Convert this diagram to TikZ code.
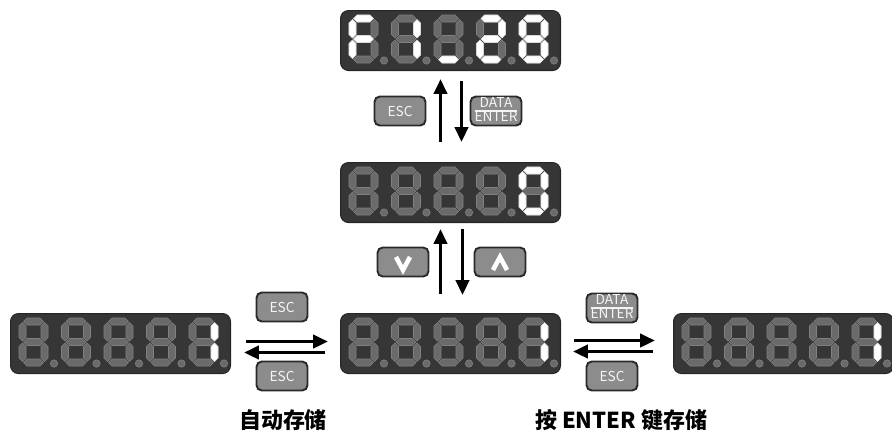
\documentclass[tikz,border=0pt]{standalone}
\usepackage{fontspec}
\usetikzlibrary{arrows.meta}
\newfontfamily\cjkfont{Noto Sans CJK SC}

\definecolor{panel}{HTML}{363636}
\definecolor{paneledge}{HTML}{262626}
\definecolor{segdim}{HTML}{6A6A6A}
\definecolor{segdimedge}{HTML}{808080}
\definecolor{keygrey}{HTML}{8C8C8C}
\definecolor{keyedge}{HTML}{2A2A2A}
\definecolor{keytext}{HTML}{F4F4F4}

% segments of one digit, 29 x 48 units, y pointing down
\tikzset{
  seg a/.pic={\path[pic actions] (4.5,3.5) -- (8,0) -- (21,0) -- (24.5,3.5) -- (21,7) -- (8,7) -- cycle;},
  seg g/.pic={\path[pic actions] (4.5,24) -- (8,20.5) -- (21,20.5) -- (24.5,24) -- (21,27.5) -- (8,27.5) -- cycle;},
  seg d/.pic={\path[pic actions] (4.5,44.5) -- (8,41) -- (21,41) -- (24.5,44.5) -- (21,48) -- (8,48) -- cycle;},
  seg f/.pic={\path[pic actions] (3.5,4.5) -- (7,8) -- (7,19.5) -- (3.5,23) -- (0,19.5) -- (0,8) -- cycle;},
  seg b/.pic={\path[pic actions] (25.5,4.5) -- (29,8) -- (29,19.5) -- (25.5,23) -- (22,19.5) -- (22,8) -- cycle;},
  seg e/.pic={\path[pic actions] (3.5,25) -- (7,28.5) -- (7,40) -- (3.5,43.5) -- (0,40) -- (0,28.5) -- cycle;},
  seg c/.pic={\path[pic actions] (25.5,25) -- (29,28.5) -- (29,40) -- (25.5,43.5) -- (22,40) -- (22,28.5) -- cycle;},
  seg dp/.pic={\path[pic actions] (35,45.5) circle[radius=2.1pt];},
  seg none/.pic={}
}

% one digit: position, lit segments
\newcommand{\leddigit}[2]{%
  \foreach \s in {a,b,c,d,e,f,g,dp} \pic[segoff] at (#1) {seg \s};
  \foreach \s in {#2} \pic[segon] at (#1) {seg \s};
}

% one display: name, top left corner, lit segments of the five digits
\newcommand{\leddisplay}[7]{%
  \node[display, anchor=north west] (#1) at (#2) {};
  \begin{scope}[shift={(#2)}]
    \leddigit{9,5}{#3}
    \leddigit{51.5,5}{#4}
    \leddigit{94,5}{#5}
    \leddigit{136.5,5}{#6}
    \leddigit{179,5}{#7}
  \end{scope}}

\begin{document}
\begin{tikzpicture}[
            x=0.02cm, y=-0.02cm,
            display/.style={fill=panel, draw=paneledge, line width=0.6pt, rounded corners=0.16cm,
                            minimum width=4.4cm, minimum height=1.2cm, inner sep=0pt},
            segoff/.style={fill=segdim, draw=segdimedge, line width=0.35pt},
            segon/.style={fill=white, draw=white!85!black, line width=0.35pt},
            key/.style={fill=keygrey, draw=keyedge, line width=1.1pt, rounded corners=3pt,
                        minimum width=1.02cm, minimum height=0.58cm, inner sep=0pt,
                        text=keytext, font=\cjkfont\fontsize{7.8}{8}\selectfont},
            chevron/.style={draw=white, line width=2.6pt},
            flow/.style={line width=2pt, -{Triangle[length=8.5pt, width=7.5pt]}},
            caption/.style={font=\cjkfont\bfseries\fontsize{12.5}{14}\selectfont}
        ]
            \useasboundingbox (0,0) rectangle (892,434);

            % displays
            \leddisplay{fcode}{340,10}{a,f,g,e}{b,c}{d}{a,b,g,e,d}{a,b,c,d,e,f,g}
            \leddisplay{value}{340,162}{none}{none}{none}{none}{a,b,c,d,e,f}
            \leddisplay{autosave}{10,313}{none}{none}{none}{none}{b,c}
            \leddisplay{edit}{340,313}{none}{none}{none}{none}{b,c}
            \leddisplay{entersave}{673,313}{none}{none}{none}{none}{b,c}

            % keys
            \node[key] (escup) at (400,111) {ESC};
            \node[key] (dataup) at (496,111) {\renewcommand{\arraystretch}{0.78}\setlength{\arrayrulewidth}{0.7pt}%
                \begin{tabular}{@{}c@{}}DATA\\\hline ENTER\end{tabular}};
            \node[key] (dnkey) at (403,262) {};
            \node[key] (upkey) at (500,262) {};
            \draw[chevron] ([shift={(-7,-5)}]dnkey.center) -- ([shift={(0,8)}]dnkey.center) -- ([shift={(7,-5)}]dnkey.center);
            \draw[chevron] ([shift={(-7,8)}]upkey.center) -- ([shift={(0,-5)}]upkey.center) -- ([shift={(7,8)}]upkey.center);
            \node[key] (escleft) at (282,307) {ESC};
            \node[key] (escback) at (282,376) {ESC};
            \node[key] (dataright) at (612,308) {\renewcommand{\arraystretch}{0.78}\setlength{\arrayrulewidth}{0.7pt}%
                \begin{tabular}{@{}c@{}}DATA\\\hline ENTER\end{tabular}};
            \node[key] (escright) at (612,376) {ESC};

            % arrows between the displays
            \draw[flow, shorten <=0.4cm, shorten >=0.16cm] ([xshift=-0.2cm]value.north) -- ([xshift=-0.2cm]fcode.south);
            \draw[flow, shorten <=0.2cm, shorten >=0.4cm] ([xshift=0.22cm]fcode.south) -- ([xshift=0.22cm]value.north);
            \draw[flow, shorten <=0.38cm, shorten >=0.12cm] ([xshift=-0.2cm]edit.north) -- ([xshift=-0.2cm]value.south);
            \draw[flow, shorten <=0.12cm, shorten >=0.36cm] ([xshift=0.24cm]value.south) -- ([xshift=0.24cm]edit.north);
            \draw[flow, shorten <=0.3cm, shorten >=0.24cm] ([yshift=0.04cm]autosave.east) -- ([yshift=0.04cm]edit.west);
            \draw[flow, shorten <=0.3cm, shorten >=0.26cm] ([yshift=-0.18cm]edit.west) -- ([yshift=-0.18cm]autosave.east);
            \draw[flow, shorten <=0.26cm, shorten >=0.36cm] ([yshift=0.06cm]edit.east) -- ([yshift=0.06cm]entersave.west);
            \draw[flow, shorten <=0.4cm, shorten >=0.24cm] ([yshift=-0.16cm]entersave.west) -- ([yshift=-0.16cm]edit.east);

            % captions
            \node[caption] (autolabel) at (283,420) {自动存储};
            \node[caption] (enterlabel) at (621,420) {按 ENTER 键存储};

        \end{tikzpicture}
\end{document}
